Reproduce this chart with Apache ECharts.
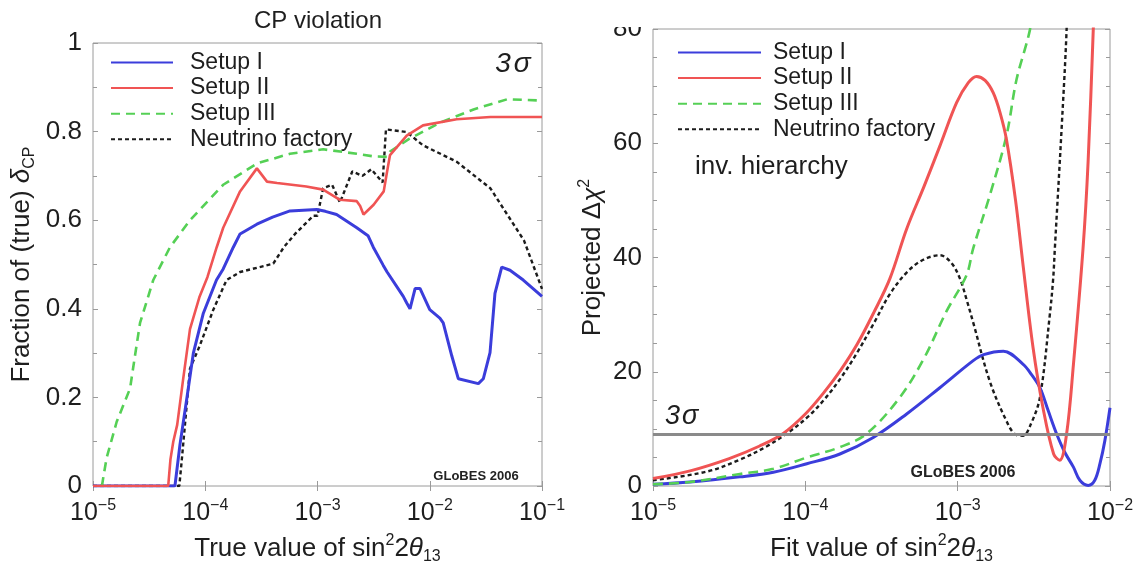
<!DOCTYPE html>
<html>
<head>
<meta charset="utf-8">
<script src="https://cdn.jsdelivr.net/npm/echarts@6/dist/echarts.min.js"></script>
<style>
  html, body { margin: 0; padding: 0; background: #fff; }
  #chart { width: 1138px; height: 570px; }
</style>
</head>
<body>
<div id="chart"></div>
<script>
(function() {
  'use strict';

  // x values are stored as log10(sin^2 2theta13)
  // ---- left panel: CP violation fraction ----
  var cp1X = [-5, -4.27, -4.225, -4.16, -4.106, -4.017, -3.9, -3.84, -3.75, -3.69, -3.54, -3.40, -3.245, -3.007, -2.93, -2.83, -2.65, -2.55, -2.503, -2.414, -2.38, -2.236, -2.205, -2.176, -2.13, -2.087, -2.0, -1.91, -1.88, -1.804, -1.745, -1.567, -1.523, -1.463, -1.419, -1.359, -1.285, -1.167, -1.0];
  var cp1Y = [0, 0, 0.094, 0.205, 0.30, 0.39, 0.465, 0.49, 0.539, 0.569, 0.591, 0.607, 0.621, 0.624, 0.62, 0.613, 0.583, 0.565, 0.539, 0.498, 0.483, 0.428, 0.413, 0.40, 0.446, 0.446, 0.398, 0.379, 0.368, 0.294, 0.242, 0.231, 0.242, 0.301, 0.435, 0.494, 0.487, 0.465, 0.428];

  var cp2X = [-5, -4.33, -4.31, -4.285, -4.25, -4.196, -4.136, -4.05, -3.98, -3.898, -3.84, -3.69, -3.54, -3.45, -3.36, -3.10, -2.95, -2.80, -2.65, -2.62, -2.59, -2.50, -2.41, -2.38, -2.354, -2.205, -2.06, -1.76, -1.46, -1.0];
  var cp2Y = [0, 0, 0.06, 0.10, 0.138, 0.243, 0.354, 0.428, 0.472, 0.539, 0.583, 0.665, 0.717, 0.687, 0.684, 0.676, 0.669, 0.646, 0.643, 0.632, 0.613, 0.635, 0.665, 0.71, 0.747, 0.791, 0.814, 0.828, 0.833, 0.833];

  var cp3X = [-4.92, -4.908, -4.878, -4.789, -4.67, -4.626, -4.581, -4.463, -4.314, -4.136, -3.84, -3.54, -3.245, -2.95, -2.65, -2.5, -2.38, -2.354, -2.18, -1.91, -1.61, -1.31, -1.0];
  var cp3Y = [0, 0.02, 0.064, 0.145, 0.22, 0.294, 0.368, 0.465, 0.539, 0.6, 0.68, 0.728, 0.75, 0.76, 0.75, 0.744, 0.743, 0.755, 0.784, 0.82, 0.85, 0.873, 0.87];

  var cpNfX = [-5, -4.231, -4.21, -4.136, -4.05, -3.928, -3.81, -3.69, -3.394, -3.30, -3.20, -3.037, -3.0, -2.95, -2.87, -2.80, -2.69, -2.60, -2.52, -2.42, -2.39, -2.205, -2.06, -1.76, -1.46, -1.31, -1.16, -1.0];
  var cpNfY = [0, 0, 0.056, 0.265, 0.316, 0.398, 0.465, 0.483, 0.502, 0.539, 0.569, 0.61, 0.61, 0.672, 0.68, 0.64, 0.71, 0.70, 0.715, 0.685, 0.805, 0.799, 0.769, 0.732, 0.672, 0.613, 0.554, 0.445];

  // ---- right panel: projected delta chi^2, inverted hierarchy ----
  var ch1X = [-5, -4.757, -4.43, -4.21, -3.99, -3.773, -3.554, -3.335, -3.117, -2.90, -2.83, -2.70, -2.57, -2.515, -2.46, -2.406, -2.35, -2.297, -2.24, -2.198, -2.143, -2.1, -2.066, -2.034, -2.0];
  var ch1Y = [0.3, 0.7, 1.6, 2.4, 3.9, 5.6, 8.5, 12.6, 17.2, 21.9, 23.0, 23.6, 21.3, 19.5, 17.2, 13.2, 9.1, 5.9, 3.3, 1.0, 0.1, 1.0, 3.9, 7.9, 13.7];

  var ch2X = [-5, -4.75, -4.5, -4.3, -4.145, -4.0, -3.88, -3.77, -3.66, -3.55, -3.445, -3.335, -3.22, -3.117, -3.007, -2.93, -2.876, -2.82, -2.766, -2.72, -2.68, -2.62, -2.57, -2.505, -2.44, -2.37, -2.33, -2.285, -2.24, -2.177, -2.144, -2.11, -2.09];
  var ch2Y = [1.3, 2.7, 4.8, 7.0, 9.2, 12.6, 16.3, 20.2, 24.8, 30.4, 36.3, 45, 52.5, 59.5, 67.1, 70.6, 71.7, 71.0, 68.8, 65.2, 60.7, 50.0, 38.5, 24.2, 13.7, 5.6, 4.5, 9.1, 21.3, 41.6, 56.6, 79.8, 95];

  var ch3X = [-5, -4.757, -4.43, -4.21, -3.99, -3.773, -3.6, -3.38, -3.22, -3.073, -2.942, -2.898, -2.79, -2.68, -2.614, -2.526, -2.5];
  var ch3Y = [0.3, 0.7, 2.1, 3.0, 5.0, 6.8, 9.1, 15.5, 22.4, 30.6, 36.9, 41.6, 50.8, 61.3, 71.1, 79.8, 85];

  var chNfX = [-5, -4.65, -4.43, -4.25, -4.10, -3.98, -3.88, -3.77, -3.663, -3.55, -3.445, -3.33, -3.226, -3.117, -3.04, -2.985, -2.94, -2.90, -2.79, -2.68, -2.62, -2.57, -2.52, -2.46, -2.395, -2.373, -2.362, -2.318, -2.285, -2.27];
  var chNfY = [1.0, 2.5, 4.6, 7.0, 9.6, 12.2, 15.0, 18.8, 23.2, 28.5, 33.6, 37.5, 39.6, 40.4, 39.0, 36.3, 32.5, 28.8, 18.4, 11.4, 9.0, 8.8, 10.8, 15.5, 30, 36.3, 41.6, 62.4, 79.8, 95];

  var sigma3 = 9;
  var names = ['Setup I', 'Setup II', 'Setup III', 'Neutrino factory'];

  var blue = '#3b3ddb';
  var red = '#f05454';
  var green = '#55d055';
  var black = '#1c1c1c';
  var ink = '#1e1e1e';
  var frame = '#9a9a9a';
  var font = '"Liberation Sans", Arial, sans-serif';

  function pairs(xs, ys) {
    return xs.map(function(e, i) { return [Math.pow(10, e), ys[i]]; });
  }

  function powLabel(v) {
    var e = Math.round(Math.log10(v));
    return '{b|10}{s|\u2212' + Math.abs(e) + '}';
  }

  var powRich = {
    b: { fontSize: 25, lineHeight: 30, color: ink, fontFamily: font },
    s: { fontSize: 16, verticalAlign: 'top', color: ink, fontFamily: font }
  };

  var nameRich = {
    s: { fontSize: 16, verticalAlign: 'top', color: ink, fontFamily: font },
    sub: { fontSize: 16, verticalAlign: 'bottom', color: ink, fontFamily: font },
    it: { fontSize: 26, fontStyle: 'italic', lineHeight: 32, color: ink, fontFamily: font }
  };

  function logX(grid, min, max, top, name) {
    return {
      type: 'log', logBase: 10, gridIndex: grid, min: min, max: max,
      position: top ? 'top' : 'bottom',
      name: top ? '' : name,
      nameLocation: 'middle', nameGap: 47,
      nameTextStyle: { fontSize: 26, lineHeight: 32, color: ink, fontFamily: font, rich: nameRich },
      axisLine: { show: false },
      axisTick: { show: true, inside: true, length: 5, lineStyle: { color: frame } },
      axisLabel: { show: !top, margin: 12, formatter: powLabel, rich: powRich },
      splitLine: { show: false }
    };
  }

  function linY(grid, max, interval, minorSplit, right, name, gap) {
    return {
      type: 'value', gridIndex: grid, min: 0, max: max, interval: interval,
      position: right ? 'right' : 'left',
      name: right ? '' : name,
      nameLocation: 'middle', nameGap: gap, nameRotate: 90,
      nameTextStyle: { fontSize: 26, lineHeight: 32, color: ink, fontFamily: font, rich: nameRich },
      axisLine: { show: false },
      axisTick: { show: true, inside: true, length: 5, lineStyle: { color: frame } },
      minorTick: { show: true, splitNumber: minorSplit, length: 4, lineStyle: { color: frame } },
      axisLabel: { show: !right, margin: 11, fontSize: 26, color: ink, fontFamily: font },
      splitLine: { show: false }
    };
  }

  function series(name, grid, data, color, width, dash, z) {
    return {
      name: name, type: 'line', xAxisIndex: grid * 2, yAxisIndex: grid * 2,
      data: data, symbol: 'none', smooth: grid === 1 ? 0.35 : false,
      z: z, clip: true,
      lineStyle: { color: color, width: width, type: dash || 'solid', cap: 'butt' },
      itemStyle: { color: color }
    };
  }

  var legendText = { fontSize: 23, lineHeight: 20, color: ink, fontFamily: font, padding: [0, 0, 0, 12] };
  var legendBase = {
    data: names, orient: 'vertical', itemHeight: 12, itemGap: 2.6,
    itemStyle: { opacity: 0 },
    selectedMode: false
  };

  var chart = echarts.init(document.getElementById('chart'), null, { renderer: 'canvas' });

  var sigmaSeries = series('Setup II', 1, pairs(ch2X, ch2Y), red, 3, null, 4);
  sigmaSeries.markLine = {
    silent: true, symbol: 'none', animation: false,
    lineStyle: { color: '#8a8a8a', width: 3, type: 'solid' },
    label: {
      show: true, position: 'insideStartTop', distance: [12, 5],
      formatter: '{n|3}{g|\u03c3}',
      rich: {
        n: { fontSize: 27, color: ink, fontFamily: font, fontStyle: 'italic', padding: [0, 2, 0, 0] },
        g: { fontSize: 27, color: ink, fontFamily: font, fontStyle: 'italic' }
      }
    },
    data: [{ yAxis: sigma3 }]
  };

  chart.setOption({
    animation: false,
    backgroundColor: '#fff',
    grid: [
      { left: 93, top: 43, width: 449, height: 449, show: true, borderColor: frame, borderWidth: 1 },
      { left: 653, top: 29, width: 457, height: 460, show: true, borderColor: frame, borderWidth: 1 }
    ],
    xAxis: [
      logX(0, 1e-5, 1e-1, false, 'True value of sin{s|2}2{it|\u03b8}{sub|13}'),
      logX(0, 1e-5, 1e-1, true, ''),
      logX(1, 1e-5, 1e-2, false, 'Fit value of sin{s|2}2{it|\u03b8}{sub|13}'),
      logX(1, 1e-5, 1e-2, true, '')
    ],
    yAxis: [
      linY(0, 1, 0.2, 2, false, 'Fraction of (true) {it|\u03b4}{sub|CP}', 55),
      linY(0, 1, 0.2, 2, true, '', 0),
      linY(1, 80, 20, 4, false, 'Projected \u0394{it|\u03c7}{s|2}', 44),
      linY(1, 80, 20, 4, true, '', 0)
    ],
    legend: [
      Object.assign({}, legendBase, { left: 105, top: 46, itemWidth: 62, textStyle: legendText }),
      Object.assign({}, legendBase, { left: 672, top: 36, itemWidth: 83,
        textStyle: Object.assign({}, legendText, { padding: [0, 0, 0, 7] }) })
    ],
    series: [
      series('Setup I', 0, pairs(cp1X, cp1Y), blue, 3, null, 3),
      series('Setup II', 0, pairs(cp2X, cp2Y), red, 2.6, null, 5),
      series('Setup III', 0, pairs(cp3X, cp3Y), green, 2.6, [9, 6], 4),
      series('Neutrino factory', 0, pairs(cpNfX, cpNfY), black, 2.4, [4, 3], 2),
      series('Setup I', 1, pairs(ch1X, ch1Y), blue, 3, null, 3),
      sigmaSeries,
      series('Setup III', 1, pairs(ch3X, ch3Y), green, 2.6, [10, 6], 3),
      series('Neutrino factory', 1, pairs(chNfX, chNfY), black, 2.4, [4, 3], 2)
    ],
    graphic: [
      { type: 'rect', z: 100, shape: { x: 580, y: 0, width: 558, height: 27 }, style: { fill: '#fff' } },
      { type: 'text', x: 318, y: 21, style: { text: 'CP violation', align: 'center', verticalAlign: 'middle', fontSize: 24, fontFamily: font, fill: ink } },
      { type: 'text', x: 513, y: 64, style: {
          text: '{n|3}{g|\u03c3}', align: 'center', verticalAlign: 'middle',
          rich: {
            n: { fontSize: 28, fontFamily: font, fill: ink, fontStyle: 'italic', padding: [0, 3, 0, 0] },
            g: { fontSize: 28, fontFamily: font, fill: ink, fontStyle: 'italic' }
          }
      } },
      { type: 'text', x: 695, y: 167, style: { text: 'inv. hierarchy', align: 'left', verticalAlign: 'middle', fontSize: 26, fontFamily: font, fill: ink } },
      { type: 'text', x: 476, y: 476, style: { text: 'GLoBES 2006', align: 'center', verticalAlign: 'middle', fontSize: 13, fontWeight: 'bold', fontFamily: font, fill: '#222' } },
      { type: 'text', x: 963, y: 473, style: { text: 'GLoBES 2006', align: 'center', verticalAlign: 'middle', fontSize: 16, fontWeight: 'bold', fontFamily: font, fill: '#222' } }
    ]
  });
  window.addEventListener('resize', function() { chart.resize(); });

})();
</script>
</body>
</html>
